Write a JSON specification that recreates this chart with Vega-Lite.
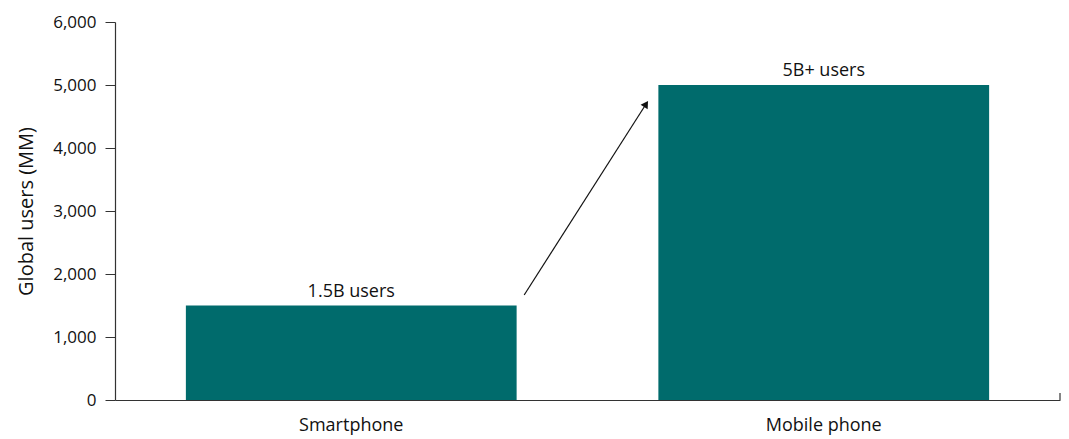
{
  "$schema": "https://vega.github.io/schema/vega-lite/v6.json",
  "width": 945,
  "height": 378,
  "autosize": {"type": "none"},
  "padding": {"left": 115, "top": 22, "right": 9, "bottom": 39},
  "background": "white",
  "config": {"view": {"stroke": null}, "font": "Open Sans"},
  "datasets": {
    "bars": [
      {"device": "Smartphone", "users": 1500, "label": "1.5B users"},
      {"device": "Mobile phone", "users": 5000, "label": "5B+ users"}
    ],
    "arrow": [
      {"x": 0.866, "y": 1667, "x2": 1.124, "y2": 4698}
    ],
    "endtick": [
      {"x": 2, "y": 0, "y2": 110}
    ]
  },
  "layer": [
    {
      "data": {"name": "bars"},
      "encoding": {
        "x": {
          "field": "device", "type": "nominal", "sort": null,
          "scale": {"paddingInner": 0.3, "paddingOuter": 0.15},
          "axis": {"title": null, "labelAngle": 0, "labelFontSize": 18, "labelColor": "#111", "ticks": false, "labelPadding": 16, "domainColor": "#333", "domainWidth": 1.2}
        },
        "y": {
          "field": "users", "type": "quantitative",
          "scale": {"domain": [0, 6000]},
          "axis": {"title": "Global users (MM)", "titleFontSize": 20, "titleFontWeight": "normal", "titleColor": "#111", "titlePadding": 16, "labelFontSize": 17, "labelColor": "#111", "grid": false, "tickCount": 7, "tickSize": 10, "tickColor": "#333", "domainColor": "#333", "domainWidth": 1.2, "labelPadding": 9, "format": ",d"}
        }
      },
      "layer": [
        {"mark": {"type": "bar", "color": "#006b6c"}},
        {
          "mark": {"type": "text", "dy": -9, "fontSize": 18, "color": "#111", "baseline": "alphabetic"},
          "encoding": {"text": {"field": "label"}}
        }
      ]
    },
    {
      "layer": [
        {
          "data": {"name": "arrow"},
          "mark": {"type": "rule", "color": "#111", "strokeWidth": 1.2},
          "encoding": {
            "x": {"field": "x", "type": "quantitative", "scale": {"domain": [0, 2]}, "axis": null},
            "x2": {"field": "x2"},
            "y": {"field": "y", "type": "quantitative"},
            "y2": {"field": "y2"}
          }
        },
        {
          "data": {"name": "arrow"},
          "mark": {"type": "point", "shape": "triangle-up", "filled": true, "color": "#111", "size": 70, "angle": 33, "opacity": 1},
          "encoding": {
            "x": {"field": "x2", "type": "quantitative", "scale": {"domain": [0, 2]}, "axis": null},
            "y": {"field": "y2", "type": "quantitative"}
          }
        },
        {
          "data": {"name": "endtick"},
          "mark": {"type": "rule", "color": "#333", "strokeWidth": 1.2},
          "encoding": {
            "x": {"field": "x", "type": "quantitative", "scale": {"domain": [0, 2]}, "axis": null},
            "y": {"field": "y", "type": "quantitative"},
            "y2": {"field": "y2"}
          }
        }
      ]
    }
  ],
  "resolve": {"scale": {"x": "independent"}}
}
